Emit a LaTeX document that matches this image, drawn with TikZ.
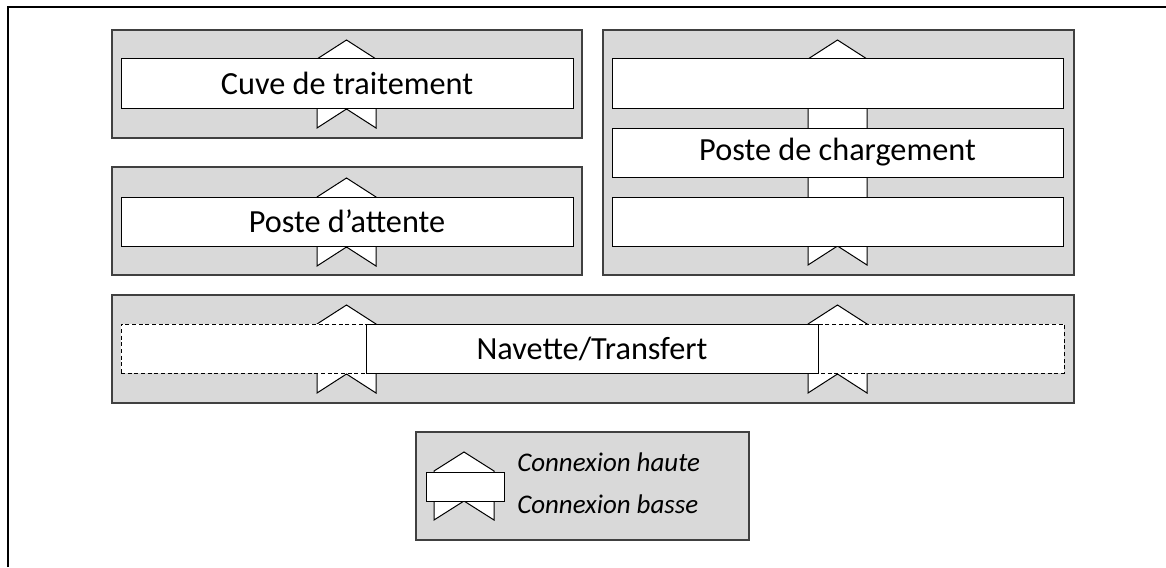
\documentclass[tikz,border=0pt]{standalone}
\usepackage{fontspec}
\setmainfont{Carlito}
\usetikzlibrary{fit}
\definecolor{panelgray}{HTML}{D9D9D9}
\definecolor{paneledge}{HTML}{404040}
\tikzset{
  panel/.style={draw=paneledge, fill=panelgray, line width=1pt},
  wbox/.style={draw=black, fill=white, line width=0.75pt, inner sep=0pt},
  dbox/.style={wbox, dash pattern=on 3pt off 2pt},
  boxtext/.style={font=\fontsize{24.2}{28}\selectfont, inner sep=0pt},
  chevron/.style={draw=black, fill=white, line width=0.75pt, line join=miter},
  frameline/.style={draw=black, line width=1.6pt},
  legtext/.style={anchor=base west, inner sep=0pt, font=\fontsize{20.2}{24}\selectfont\itshape}
}
% chevron: x1, x2, ytop, ybottom (depth 19)
\newcommand\chevshape[4]{%
  \draw[chevron] (#1,#3+19) -- ({(#1+#2)/2},#3) -- (#2,#3+19) -- (#2,#4) -- ({(#1+#2)/2},#4-19) -- (#1,#4) -- cycle;}
\begin{document}
\begin{tikzpicture}[x=0.75pt,y=-0.75pt]
\useasboundingbox (0,0) rectangle (1166,567);
% outer frame (only top and left visible)
\draw[frameline] (8,567) -- (8,7) -- (1166,7);

% panel 1: Cuve de traitement
\draw[panel] (112,30) rectangle (582,138);
\chevshape{317}{376}{40}{128}
\node[wbox, fit={(121,59) (573,108)}] (cuve) {};
\node[boxtext] (cuvet) at (cuve.center) {Cuve de traitement};

% panel 2: Poste d'attente
\draw[panel] (112,167) rectangle (582,275);
\chevshape{317}{376}{178}{266}
\node[wbox, fit={(121,197) (573,246)}] (attente) {};
\node[boxtext] (attentet) at (attente.center) {Poste d’attente};

% panel 3: Poste de chargement
\draw[panel] (603,30) rectangle (1074,275);
\chevshape{808}{867}{40}{265}
\node[wbox, fit={(612,59) (1063,108)}] (charg1) {};
\node[wbox, fit={(612,128) (1063,177)}] (charg2) {};
\node[wbox, fit={(612,197) (1063,246)}] (charg3) {};
\node[boxtext] (chargt) at (charg2.center) {Poste de chargement};

% panel 4: Navette/Transfert
\draw[panel] (112,295) rectangle (1074,403);
\chevshape{317}{376}{305}{393}
\chevshape{808}{867}{305}{393}
\node[dbox, fit={(121,324) (1064,373)}] (course) {};
\node[wbox, fit={(366,324) (818,373)}] (navette) {};
\node[boxtext] (navettet) at (navette.center) {Navette/Transfert};

% legend
\draw[panel] (416,432) rectangle (749,540);
\chevshape{434}{494}{452}{520}
\node[wbox, fit={(426,472) (504,501)}] (legbox) {};
\node[legtext] (haute) at (517,471) {Connexion haute};
\node[legtext] (basse) at (517,513) {Connexion basse};
\end{tikzpicture}
\end{document}
